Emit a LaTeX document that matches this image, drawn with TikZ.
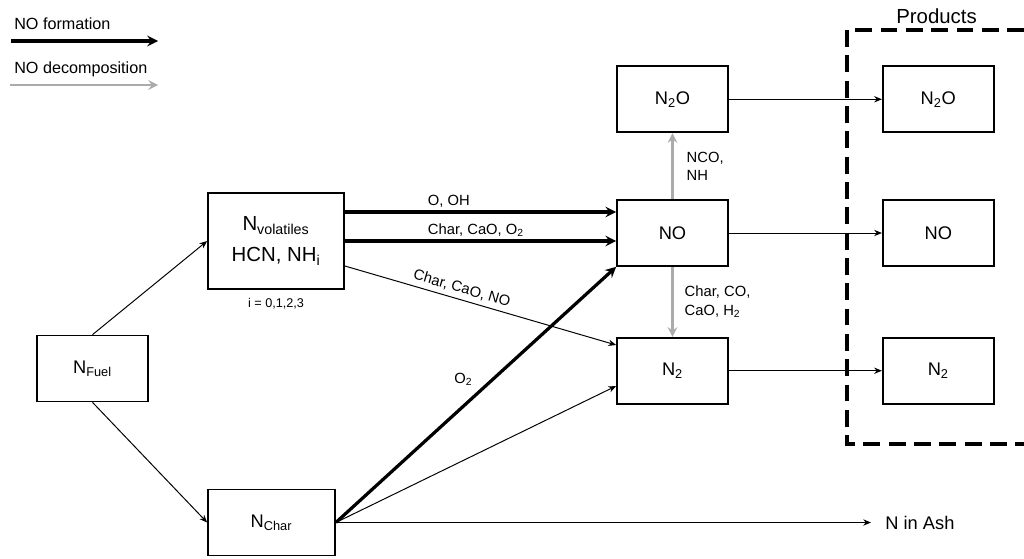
\documentclass[tikz,border=0pt]{standalone}
\usepackage{fontspec}
\setmainfont{Liberation Sans}
\usetikzlibrary{positioning, arrows.meta}

\tikzset{
  box/.style={rectangle, draw, line width=1.2pt, text centered, minimum width=2.775cm, minimum height=1.65cm, font=\fontsize{13}{16}\selectfont},
  form/.style={->, line width=2.3pt, >=stealth},
  decomp/.style={->, line width=2pt, black!33, >=stealth},
  flow/.style={->, line width=0.7pt, >={Stealth[length=5.5pt, width=4.5pt]}},
  lbl/.style={font=\fontsize{10.5}{13}\selectfont, text=black, inner sep=2pt},
  legend/.style={font=\fontsize{11.5}{14}\selectfont, anchor=west, inner sep=0pt},
  frame/.style={line width=2.2pt, dash pattern=on 12pt off 6pt},
}

\begin{document}
\begin{tikzpicture}[x=0.025cm, y=-0.025cm]
  \useasboundingbox (0,0) rectangle (1024,558);

  % legend
  \node[legend] (lform) at (14,24) {NO formation};
  \coordinate (lf1) at (11,41);
  \coordinate (lf2) at (158,41);
  \draw[form] (lf1) -- (lf2);
  \node[legend] (ldec) at (14,69) {NO decomposition};
  \coordinate (ld1) at (10,85);
  \coordinate (ld2) at (158,85);
  \draw[decomp] (ld1) -- (ld2);

  % sources
  \node[box] (fuel) at (92.5,368.5) {N\textsubscript{Fuel}};
  \node[box, minimum width=3.4cm, minimum height=2.4cm, align=center, font=\fontsize{14.5}{22}\selectfont] (vol) at (276,241) {N\textsubscript{volatiles}\\HCN, NH\textsubscript{i}};
  \node[font=\fontsize{9}{11}\selectfont, below=0.08cm of vol] (idx) {i = 0,1,2,3};
  \node[box, minimum width=3.175cm] (char) at (271.5,522.5) {N\textsubscript{Char}};

  % intermediates
  \node[box] (no) at (672.5,233) {NO};
  \node[box, above=1.65cm of no] (n2o) {N\textsubscript{2}O};
  \node[box, below=1.75cm of no] (n2) {N\textsubscript{2}};

  % products
  \node[box, right=3.825cm of n2o] (pn2o) {N\textsubscript{2}O};
  \node[box, right=3.825cm of no] (pno) {NO};
  \node[box, right=3.825cm of n2] (pn2) {N\textsubscript{2}};
  \node[font=\fontsize{13}{16}\selectfont, anchor=west, inner sep=0pt, inner xsep=10pt] (ash) at (871,522.5) {N in Ash};
  \draw[frame] (1024,30) -- (847,30) -- (847,444) -- (1024,444);
  \node[font=\fontsize{14.5}{17}\selectfont] (prod) at (936.5,16) {Products};

  % connectors
  \draw[flow] (fuel.north) -- (vol.west);
  \draw[flow] (fuel.south) -- (char.west);
  \draw[form] (vol.east |- 0,212) -- node[lbl, pos=0.29, anchor=south west] {O, OH} (no.west |- 0,212);
  \draw[form] (vol.east) -- node[lbl, pos=0.29, anchor=south west] {Char, CaO, O\textsubscript{2}} (vol.east -| no.west);
  \draw[flow] (vol.east |- 0,266) -- node[lbl, pos=0.42, sloped, above=1pt] {Char, CaO, NO} (n2.west |- 0,345);
  \draw[form] (char.east) -- node[lbl, pos=0.56, left=0.4cm] {O\textsubscript{2}} (no.south west);
  \draw[flow] (char.east) -- (n2.west |- 0,386);
  \draw[flow] (char.east) -- (ash.west);
  \draw[decomp] (no.north) -- node[lbl, right=0.25cm, align=left] {NCO,\\NH} (n2o.south);
  \draw[decomp] (no.south) -- node[lbl, right=0.2cm, align=left] {Char, CO,\\CaO, H\textsubscript{2}} (n2.north);
  \draw[flow] (n2o) -- (pn2o);
  \draw[flow] (no) -- (pno);
  \draw[flow] (n2) -- (pn2);
\end{tikzpicture}
\end{document}
